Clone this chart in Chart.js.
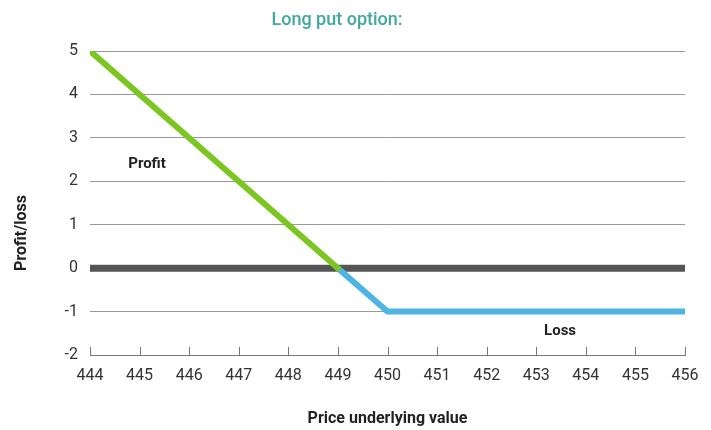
<!DOCTYPE html>
<html>
<head>
<meta charset="utf-8">
<script src="https://cdn.jsdelivr.net/npm/chart.js@4"></script>
<style>
  html, body { margin: 0; padding: 0; background: #fff; }
  #wrap { width: 711px; height: 430px; }
</style>
</head>
<body>
<div id="wrap"><canvas id="c" width="711" height="430"></canvas></div>
<script>
const prices = [444, 445, 446, 447, 448, 449, 450, 451, 452, 453, 454, 455, 456];
const profitPts = [[444, 5], [449, 0]];
const lossPts = [[449, 0], [450, -1], [456, -1]];
const zeroPts = [[444, 0], [456, 0]];
const yTicks = [-2, -1, 0, 1, 2, 3, 4, 5];

const toXY = (arr) => arr.map(([x, y]) => ({ x, y }));
const FONT = 'Roboto, "DejaVu Sans", sans-serif';

// labels, title and the little upward ticks on the x axis
const extras = {
  id: 'extras',
  afterDraw(chart) {
    const { ctx, scales: { x, y } } = chart;
    ctx.save();
    ctx.strokeStyle = '#777';
    ctx.lineWidth = 1;
    prices.forEach((p) => {
      const px = Math.round(x.getPixelForValue(p)) + 0.5;
      ctx.beginPath();
      ctx.moveTo(px, y.bottom);
      ctx.lineTo(px, y.bottom - 8);
      ctx.stroke();
    });

    ctx.fillStyle = '#40a89f';
    ctx.font = '500 18px ' + FONT;
    ctx.textAlign = 'center';
    ctx.textBaseline = 'middle';
    ctx.fillText('Long put option:', 337, 20);

    ctx.fillStyle = '#222';
    ctx.font = 'bold 15px ' + FONT;
    ctx.fillText('Profit', x.getPixelForValue(445.15), y.getPixelForValue(2.4));
    ctx.fillText('Loss', x.getPixelForValue(453.48), y.getPixelForValue(-1.45));

    ctx.font = 'bold 16px ' + FONT;
    ctx.translate(22, 233);
    ctx.rotate(-Math.PI / 2);
    ctx.fillText('Profit/loss', 0, 0);
    ctx.restore();
  }
};

new Chart(document.getElementById('c'), {
  type: 'line',
  data: {
    datasets: [
      { data: toXY(zeroPts), borderColor: '#555', borderWidth: 7, pointRadius: 0, borderCapStyle: 'round', order: 3 },
      { data: toXY(lossPts), borderColor: '#4db4e4', borderWidth: 6, pointRadius: 0, borderCapStyle: 'round', borderJoinStyle: 'round', order: 2 },
      { data: toXY(profitPts), borderColor: '#7cc622', borderWidth: 6, pointRadius: 0, borderCapStyle: 'round', order: 1 },
    ],
  },
  options: {
    responsive: false,
    animation: false,
    layout: { padding: { top: 51, right: 26, left: 0, bottom: 0 } },
    plugins: { legend: { display: false }, tooltip: { enabled: false } },
    scales: {
      x: {
        type: 'linear', min: 444, max: 456,
        afterBuildTicks: (s) => { s.ticks = prices.map((v) => ({ value: v })); },
        afterFit: (s) => { s.height = 75; },
        ticks: { color: '#333', font: { family: FONT, size: 16 }, padding: 11 },
        grid: { display: false, drawTicks: false },
        border: { display: true, color: '#777', width: 1 },
        title: { display: true, text: 'Price underlying value', color: '#222', font: { family: FONT, size: 16, weight: 'bold' }, padding: { top: 4, bottom: 1 } },
      },
      y: {
        min: -2, max: 5,
        afterBuildTicks: (s) => { s.ticks = yTicks.map((v) => ({ value: v })); },
        afterFit: (s) => { s.width = 90; },
        ticks: { color: '#333', font: { family: FONT, size: 16 }, padding: 12 },
        grid: { color: '#999', lineWidth: 1, drawTicks: false },
        border: { display: false },
      },
    },
  },
  plugins: [extras],
});
</script>
</body>
</html>
